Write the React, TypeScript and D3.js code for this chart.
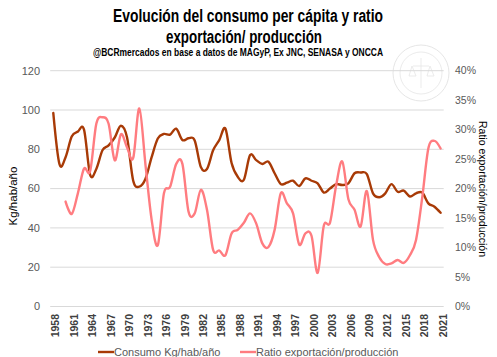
import React from "react";
import * as d3 from "d3";

const years: number[] = d3.range(1958, 2022);
const xTickYears: number[] = [1958, 1961, 1964, 1967, 1970, 1973, 1976, 1979, 1982, 1985, 1988, 1991, 1994, 1997, 2000, 2003, 2006, 2009, 2012, 2015, 2018, 2021];

const consumo: number[] = [
  98.5, 72.5, 76, 86.5, 89, 90, 67, 70, 79.5, 82,
  86, 92, 86, 64, 61, 65, 76, 85.5, 87.8, 87.5,
  90.5, 84.7, 85.6, 84.5, 71, 70, 79.5, 84.7, 90.5, 73,
  66, 64.5, 77, 74.5, 72.5, 73.7, 67.8, 62.3, 63, 64,
  61.3, 65.2, 64, 62.7, 58, 60, 62.3, 61.8, 62.7, 67.8,
  68.2, 67.4, 57.6, 55.6, 57.6, 62.3, 58.4, 59, 56, 57.6,
  58, 52.5, 50.8, 47.7,
];

const ratio: (number | null)[] = [
  null, null, 17.8, 15.7, 19.2, 23.4, 23.0, 31.0, 32.1, 31.0,
  24.8, 29.2, 27.0, 25.2, 33.6, 24.0, 14.7, 10.4, 19.2, 20.3,
  24.2, 24.2, 16.1, 15.8, 19.8, 16.4, 9.6, 9.5, 8.7, 12.4,
  13.0, 14.2, 15.8, 14.1, 10.7, 10.1, 13.0, 19.2, 17.5, 15.8,
  10.5, 12.4, 12.0, 5.7, 13.7, 14.2, 20.5, 24.6, 18.2, 16.4,
  13.6, 19.6, 11.3, 8.4, 7.2, 7.3, 7.9, 7.4, 8.7, 11.3,
  18.4, 26.8, 28.1, 26.8,
];

const leftTicks: number[] = [0, 20, 40, 60, 80, 100, 120];
const rightTicks: number[] = [0, 0.05, 0.1, 0.15, 0.2, 0.25, 0.3, 0.35, 0.4];

const titleLines: string[] = ["Evolución del consumo per cápita y ratio", "exportación/ producción"];
const subtitle = "@BCRmercados  en base a datos de MAGyP,  Ex JNC, SENASA y ONCCA";
const seriesNames: string[] = ["Consumo Kg/hab/año", "Ratio exportación/producción"];
const colors: string[] = ["#A83A06", "#FF7C80"];

export default function App() {
  const W = 497, H = 357;
  const x = d3.scalePoint<number>().domain(years).range([50.2, 443.7]).padding(0.5);
  const yL = d3.scaleLinear().domain([0, 120]).range([306.5, 70.7]);
  const yR = d3.scaleLinear().domain([0, 0.4]).range([306.5, 70.7]);

  const curve = d3.curveCardinal.tension(0);
  const consumoPath = d3.line<number>()
    .x((_, i) => x(years[i]) as number)
    .y((d) => yL(d))
    .curve(curve)(consumo) as string;
  const ratioPts = ratio
    .map((v, i) => ({ year: years[i], v }))
    .filter((d) => d.v !== null) as { year: number; v: number }[];
  const ratioPath = d3.line<{ year: number; v: number }>()
    .x((d) => x(d.year) as number)
    .y((d) => yR(d.v / 100))
    .curve(curve)(ratioPts) as string;

  const narrow = "'Liberation Sans', Arial, sans-serif";
  const sans = "'Liberation Sans', Arial, sans-serif";
  const fmtPct = d3.format(".0%");

  return (
    <svg width={W} height={H} style={{ position: "absolute", left: 0, top: 0, background: "#fff" }}>
      <rect x={0} y={0} width={W} height={H} fill="#fff" />
      {/* watermark seal */}
      <g opacity={0.5} stroke="#cfcfcf" fill="none">
        <circle cx={421} cy={73} r={28} strokeWidth={1} />
        <circle cx={421} cy={73} r={21} strokeWidth={0.8} />
        <path d="M413 66 L429 66 M421 58 L421 88 M412 66 L409 76 L416 76 Z M430 66 L427 76 L434 76 Z" strokeWidth={0.8} />
      </g>
      {/* gridlines */}
      {leftTicks.map((t) => (
        <line key={t} x1={50.2} x2={443.7} y1={yL(t)} y2={yL(t)} stroke="#D9D9D9" strokeWidth={1} />
      ))}
      {/* lines */}
      <path d={consumoPath} fill="none" stroke={colors[0]} strokeWidth={2.4} strokeLinejoin="round" strokeLinecap="round" />
      <path d={ratioPath} fill="none" stroke={colors[1]} strokeWidth={2.4} strokeLinejoin="round" strokeLinecap="round" />
      {/* left ticks */}
      {leftTicks.map((t) => (
        <text key={t} x={40} y={yL(t)} dy="0.35em" textAnchor="end" fontFamily={sans} fontSize={11} fill="#595959">{t}</text>
      ))}
      {/* right ticks */}
      {rightTicks.map((t) => (
        <text key={t} x={455} y={yR(t)} dy="0.35em" textAnchor="start" fontFamily={sans} fontSize={10.5} fill="#595959">{fmtPct(t)}</text>
      ))}
      {/* x ticks */}
      {xTickYears.map((yv) => {
        const px = (x(yv) as number) + 2.5;
        return (
          <text key={yv} transform={`translate(${px},314) rotate(-90)`} textAnchor="end" dy="0.35em" fontFamily={sans} fontSize={10.5} fontWeight="bold" fill="#404040">{yv}</text>
        );
      })}
      {/* axis titles */}
      <text transform="translate(13,196) rotate(-90)" textAnchor="middle" dy="0.35em" fontFamily={sans} fontSize={11.5} fill="#000">Kg/hab/año</text>
      <text transform="translate(483,189) rotate(90)" textAnchor="middle" dy="0.35em" fontFamily={sans} fontSize={10.5} fill="#000">Ratio exportación/producción</text>
      {/* title */}
      <text x={113} y={22} textLength={270} lengthAdjust="spacingAndGlyphs" fontFamily={narrow} fontWeight="bold" fontSize={17.5} fill="#000">{titleLines[0]}</text>
      <text x={166} y={43} textLength={156} lengthAdjust="spacingAndGlyphs" fontFamily={narrow} fontWeight="bold" fontSize={17.5} fill="#000">{titleLines[1]}</text>
      <text x={93} y={56} textLength={290} lengthAdjust="spacingAndGlyphs" fontFamily={narrow} fontWeight="bold" fontSize={10.5} fill="#000">{subtitle}</text>
      {/* legend */}
      <line x1={98} x2={114} y1={352} y2={352} stroke={colors[0]} strokeWidth={2.4} />
      <text x={114} y={352} dy="0.35em" fontFamily={sans} fontSize={11} fill="#595959">{seriesNames[0]}</text>
      <line x1={240} x2={256} y1={352} y2={352} stroke={colors[1]} strokeWidth={2.4} />
      <text x={256} y={352} dy="0.35em" fontFamily={sans} fontSize={11} fill="#595959">{seriesNames[1]}</text>
    </svg>
  );
}
